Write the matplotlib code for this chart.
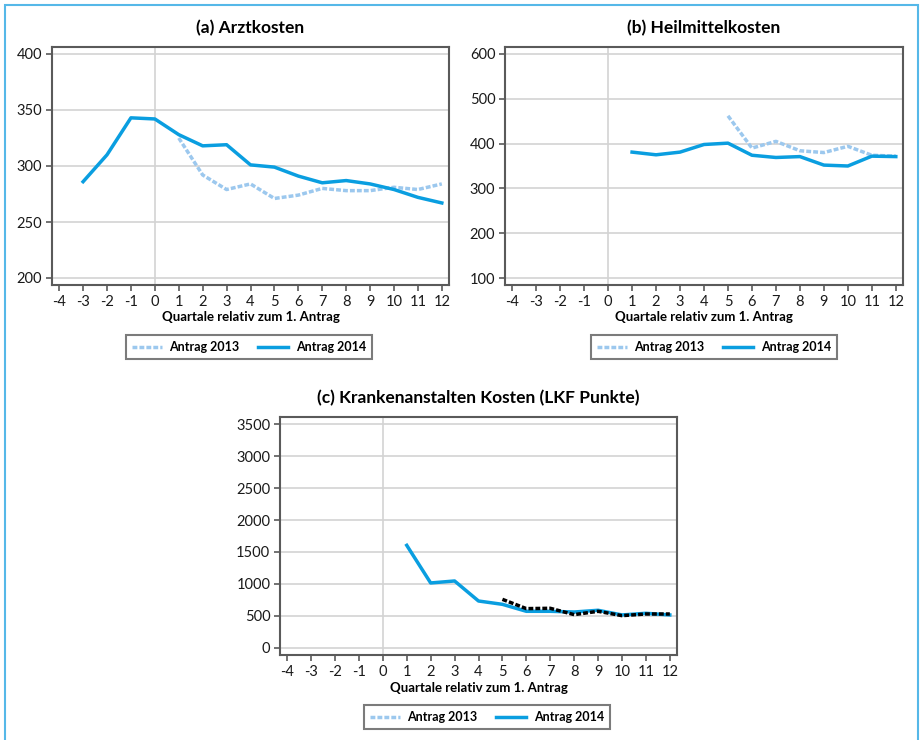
import matplotlib
matplotlib.use("Agg")
import matplotlib.pyplot as plt
from matplotlib.lines import Line2D
from matplotlib.patches import Rectangle

plt.rcParams['font.family'] = ['Lato', 'DejaVu Sans']
plt.rcParams['axes.unicode_minus'] = False

# data
quarters_a14 = [-3, -2, -1, 0, 1, 2, 3, 4, 5, 6, 7, 8, 9, 10, 11, 12]
arzt_2014 = [286, 310, 343, 342, 328, 318, 319, 301, 299, 291, 285, 287, 284, 279, 272, 267]
quarters_a13 = [1, 2, 3, 4, 5, 6, 7, 8, 9, 10, 11, 12]
arzt_2013 = [325, 292, 279, 284, 271, 274, 280, 278, 278, 281, 279, 284]

quarters_b14 = [1, 2, 3, 4, 5, 6, 7, 8, 9, 10, 11, 12]
heil_2014 = [381, 375, 381, 398, 401, 374, 369, 371, 352, 350, 372, 371]
quarters_b13 = [5, 6, 7, 8, 9, 10, 11, 12]
heil_2013 = [462, 390, 405, 384, 380, 394, 374, 372]

quarters_c14 = [1, 2, 3, 4, 5, 6, 7, 8, 9, 10, 11, 12]
kh_2014 = [1604, 1016, 1047, 734, 682, 573, 573, 562, 589, 516, 542, 516]
quarters_c13 = [5, 6, 7, 8, 9, 10, 11, 12]
kh_2013 = [760, 615, 620, 521, 573, 505, 531, 531]

xticks = list(range(-4, 13))
titles = ["(a) Arztkosten", "(b) Heilmittelkosten", "(c) Krankenanstalten Kosten (LKF Punkte)"]
xlabel = "Quartale relativ zum 1. Antrag"
labels = ["Antrag 2013", "Antrag 2014"]

C14 = "#0a9ee0"
C13 = "#9cc8ee"
GRID = "#d3d3d3"
FRAME = "#5a5a5a"
DASH = (0, (1.4, 0.6))

W, H = 922, 740
fig = plt.figure(figsize=(W / 100, H / 100), dpi=100)

# light blue frame around the whole figure
fig.patches.append(Rectangle((5 / W, -0.05), 913 / W, 1 - 5 / H + 0.05,
                             transform=fig.transFigure, fill=False,
                             edgecolor="#55b8e8", lw=1.5, clip_on=False))


def make_ax(l, t, r, b):
    return fig.add_axes([l / W, 1 - b / H, (r - l) / W, (b - t) / H])


def style(ax, title, yticks, ylim):
    ax.set_xlim(-4.3, 12.3)
    ax.set_ylim(*ylim)
    ax.set_xticks(xticks)
    ax.set_yticks(yticks)
    ax.grid(axis="y", color=GRID, lw=1.2)
    ax.axvline(0, color=GRID, lw=1.2, zorder=1)
    ax.set_axisbelow(True)
    for s in ax.spines.values():
        s.set_color(FRAME)
        s.set_linewidth(1.5)
    ax.tick_params(labelcolor="#1a1a1a", labelsize=10.5, length=4, width=1.2,
                   color=FRAME, pad=3)
    ax.set_title(title, fontsize=12.5, fontweight="bold", pad=10)
    ax.set_xlabel(xlabel, fontsize=9.5, fontweight="bold", labelpad=2)


def add_legend(cx, cy):
    handles = [Line2D([], [], color=C13, lw=2.5, ls=DASH),
               Line2D([], [], color=C14, lw=2.5)]
    leg = fig.legend(handles, labels, loc="center",
                     bbox_to_anchor=(cx / W, 1 - cy / H), ncol=2,
                     frameon=True, fancybox=False, fontsize=9,
                     handlelength=2.4, handletextpad=0.6,
                     columnspacing=1.5, borderpad=0.45)
    leg.get_frame().set_edgecolor(FRAME)
    leg.get_frame().set_linewidth(1.5)
    for t in leg.get_texts():
        t.set_fontweight("bold")


# (a)
ax = make_ax(52, 47, 449, 285)
ax.plot(quarters_a13, arzt_2013, color=C13, lw=2.5, ls=DASH)
ax.plot(quarters_a14, arzt_2014, color=C14, lw=2.5)
style(ax, titles[0], [200, 250, 300, 350, 400], (193.75, 406.25))
add_legend(249, 347)

# (b)
ax = make_ax(505, 47, 903, 285)
ax.plot(quarters_b13, heil_2013, color=C13, lw=2.5, ls=DASH)
ax.plot(quarters_b14, heil_2014, color=C14, lw=2.5)
style(ax, titles[1], [100, 200, 300, 400, 500, 600], (84.4, 615.6))
add_legend(714, 347)

# (c)
ax = make_ax(280, 417, 677, 655)
ax.plot(quarters_c14, kh_2014, color=C14, lw=2.5)
ax.plot(quarters_c13, kh_2013, color="black", lw=2.5, ls=DASH)
style(ax, titles[2], list(range(0, 3501, 500)), (-110, 3610))
add_legend(487, 717)

fig.savefig("out.png", dpi=100)
